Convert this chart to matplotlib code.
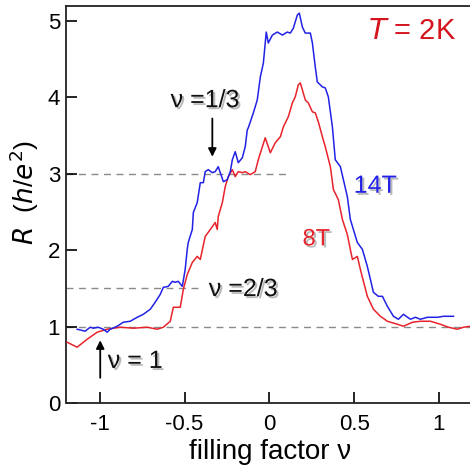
import matplotlib
matplotlib.use("Agg")
import matplotlib.pyplot as plt
import matplotlib.patheffects as pe

# 14T trace (filling factor, R in h/e^2)
nu_14t = [-1.133, -1.086, -1.056, -1.038, -1.009, -0.979, -0.956, -0.938, -0.897, -0.861,
          -0.820, -0.779, -0.743, -0.702, -0.673, -0.643, -0.625, -0.596, -0.572, -0.555,
          -0.537, -0.513, -0.496, -0.484, -0.478, -0.454, -0.448, -0.425, -0.407, -0.389,
          -0.378, -0.360, -0.336, -0.319, -0.301, -0.289, -0.271, -0.248, -0.230, -0.218,
          -0.201, -0.183, -0.159, -0.142, -0.130, -0.124, -0.094, -0.071, -0.053, -0.035,
          -0.018, -0.006, 0.018, 0.047, 0.077, 0.106, 0.124, 0.142, 0.165, 0.177,
          0.195, 0.212, 0.242, 0.254, 0.271, 0.283, 0.313, 0.330, 0.348, 0.372,
          0.389, 0.419, 0.460, 0.478, 0.519, 0.549, 0.578, 0.614, 0.643, 0.667,
          0.696, 0.732, 0.761, 0.791, 0.832, 0.861, 0.891, 0.932, 0.991, 1.027,
          1.056, 1.086]
r_14t = [0.965, 0.939, 0.991, 0.978, 0.991, 0.965, 0.926, 0.965, 1.004, 1.056,
         1.069, 1.121, 1.160, 1.226, 1.317, 1.421, 1.512, 1.525, 1.591, 1.578,
         1.591, 1.525, 1.747, 2.008, 2.099, 2.269, 2.490, 2.621, 2.881, 2.881,
         3.025, 3.051, 3.012, 3.025, 3.090, 3.012, 2.894, 2.920, 3.025, 3.181,
         3.286, 3.142, 3.207, 3.351, 3.572, 3.598, 3.794, 3.963, 4.263, 4.446,
         4.850, 4.707, 4.811, 4.850, 4.811, 4.850, 4.837, 4.902, 5.072, 5.098,
         4.915, 4.837, 4.837, 4.707, 4.394, 4.198, 4.133, 4.120, 4.003, 3.611,
         3.181, 3.090, 2.699, 2.399, 2.099, 2.008, 1.786, 1.447, 1.395, 1.395,
         1.265, 1.134, 1.095, 1.160, 1.095, 1.121, 1.095, 1.121, 1.121, 1.134,
         1.134, 1.134]

# 8T trace
nu_8t = [-1.192, -1.133, -1.074, -1.015, -0.956, -0.879, -0.802, -0.720, -0.661, -0.625,
         -0.584, -0.566, -0.525, -0.507, -0.484, -0.454, -0.425, -0.407, -0.378, -0.348,
         -0.319, -0.307, -0.301, -0.277, -0.260, -0.242, -0.218, -0.201, -0.183, -0.159,
         -0.142, -0.112, -0.083, -0.065, -0.041, -0.024, 0.006, 0.035, 0.065, 0.083,
         0.112, 0.136, 0.153, 0.171, 0.183, 0.195, 0.212, 0.230, 0.254, 0.271,
         0.289, 0.313, 0.330, 0.360, 0.378, 0.407, 0.431, 0.460, 0.490, 0.519,
         0.537, 0.578, 0.614, 0.655, 0.696, 0.755, 0.791, 0.844, 0.891, 0.950,
         1.009, 1.056, 1.109, 1.145, 1.186]
r_8t = [0.795, 0.730, 0.834, 0.926, 0.965, 0.991, 0.978, 0.991, 0.965, 0.991,
        1.069, 1.252, 1.252, 1.486, 1.680, 1.838, 1.917, 1.877, 2.177, 2.269,
        2.360, 2.269, 2.438, 2.621, 2.829, 2.960, 3.051, 2.960, 3.025, 3.012,
        3.025, 2.986, 3.025, 3.181, 3.351, 3.468, 3.272, 3.403, 3.481, 3.611,
        3.742, 3.924, 4.003, 4.159, 4.185, 4.094, 3.963, 3.924, 3.807, 3.794,
        3.677, 3.481, 3.351, 3.090, 2.790, 2.660, 2.399, 2.203, 1.877, 1.917,
        1.747, 1.395, 1.226, 1.134, 1.069, 1.030, 1.004, 1.056, 1.069, 1.069,
        1.030, 0.991, 0.965, 0.991, 1.004]

# reference levels: (R value, right end in nu)
ref_levels = [3.0, 1.5, 1.0]
ref_ends = [0.12, -0.42, 1.2]

xticks = [-1, -0.5, 0, 0.5, 1]
xtick_labels = ["-1", "-0.5", "0", "0.5", "1"]
yticks = [0, 1, 2, 3, 4, 5]

BLUE = "#2222e6"
RED = "#e8232b"
XMIN, XMAX = -1.2, 1.2

plt.rcParams["font.family"] = ["Liberation Sans", "DejaVu Sans"]

fig = plt.figure(figsize=(4.70, 4.67), dpi=100)
ax = fig.add_axes([0.140, 0.137, 0.866, 0.850])

for lvl, end in zip(ref_levels, ref_ends):
    ax.plot([XMIN, end], [lvl, lvl], color="#8a8a8a", lw=1.0,
            linestyle=(0, (5, 4)), zorder=1)

ax.plot(nu_8t, r_8t, color=RED, lw=1.1, zorder=3)
ax.plot(nu_14t, r_14t, color=BLUE, lw=1.1, zorder=4)

ax.set_xlim(XMIN, XMAX)
ax.set_ylim(0, 5.19)
ax.set_xticks(xticks)
ax.set_xticklabels(xtick_labels)
ax.set_yticks(yticks)
ax.tick_params(axis="x", direction="in", length=8, width=1.2, pad=8, labelsize=16)
ax.tick_params(axis="y", direction="in", length=8, width=1.2, pad=4, labelsize=16)
ax.spines["right"].set_visible(False)
for s in ["left", "top", "bottom"]:
    ax.spines[s].set_linewidth(1.3)
    ax.spines[s].set_color("#222222")
ax.spines["bottom"].set_bounds(-1.16, XMAX)

ax.set_xlabel("filling factor \u03bd", fontsize=20)
ax.xaxis.label.set_va("baseline")
ax.xaxis.set_label_coords(0.502, -0.142)
ax.set_ylabel(r"$R$  ($h$/$e^2$)", fontsize=19)
ax.yaxis.label.set_va("center")
ax.yaxis.set_label_coords(-0.103, 0.53)

shadow = [pe.withSimplePatchShadow(offset=(1.5, -1.5), shadow_rgbFace="#777777", alpha=0.5)]

ax.text(0.845, 4.86, r"$T$ = 2K", color="#d4141e", fontsize=21, ha="center", va="center")
ax.text(0.625, 2.84, "14T", color=BLUE, fontsize=18, ha="center", va="center",
        path_effects=shadow)
ax.text(0.277, 2.14, "8T", color=RED, fontsize=17, ha="center", va="center",
        path_effects=shadow)
ax.text(-0.378, 3.96, "\u03bd =1/3", color="#111111", fontsize=18, ha="center",
        va="center", path_effects=shadow)
ax.text(-0.153, 1.49, "\u03bd =2/3", color="#111111", fontsize=18, ha="center",
        va="center", path_effects=shadow)
ax.text(-0.79, 0.55, "\u03bd = 1", color="#111111", fontsize=18, ha="center",
        va="center", path_effects=shadow)

ax.annotate("", xy=(-0.336, 3.22), xytext=(-0.336, 3.72),
            arrowprops=dict(arrowstyle="-|>", color="black", lw=1.3,
                            mutation_scale=12, shrinkA=0, shrinkB=0))
ax.annotate("", xy=(-0.997, 0.82), xytext=(-0.997, 0.33),
            arrowprops=dict(arrowstyle="-|>", color="black", lw=1.3,
                            mutation_scale=12, shrinkA=0, shrinkB=0))

fig.savefig("out.png", dpi=100)
